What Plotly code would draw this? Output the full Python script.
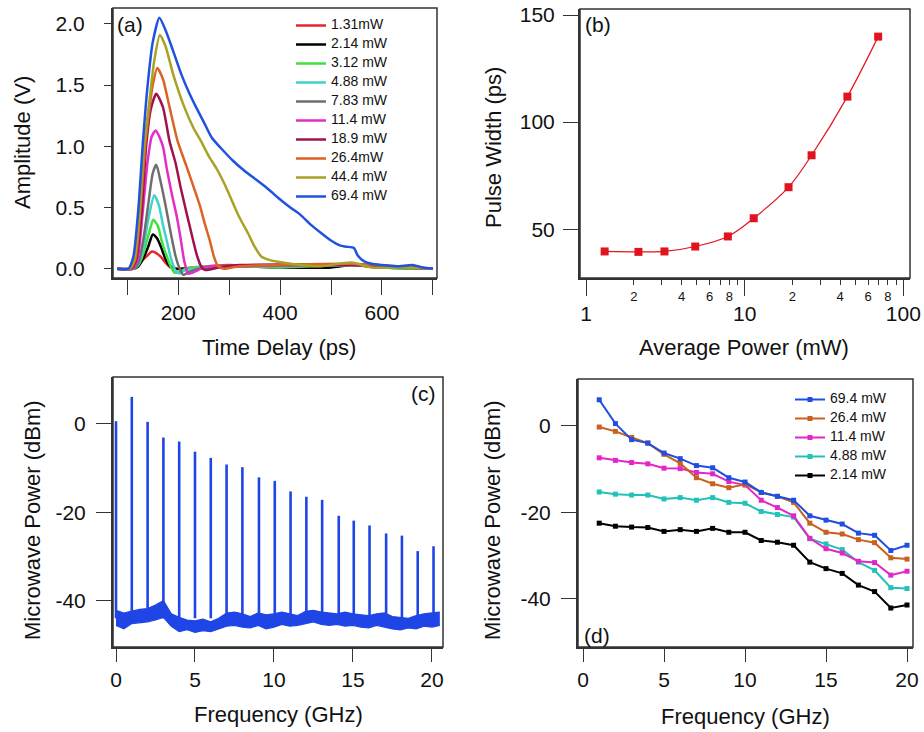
import plotly.graph_objects as go

FONT = "Liberation Sans, Arial, Helvetica, sans-serif"

# ---------------- Panel (a): pulse traces ----------------
a_labels = ["1.31mW", "2.14 mW", "3.12 mW", "4.88 mW", "7.83 mW",
            "11.4 mW", "18.9 mW", "26.4mW", "44.4 mW", "69.4 mW"]
a_colors = ["#e8262c", "#000000", "#3fe03f", "#3fd2c8", "#6e6e6e",
            "#e22ec6", "#a0124c", "#dc6226", "#a8a226", "#2052e0"]

t_131 = [80, 110, 120, 130, 140, 148, 156, 165, 175, 185, 200, 230, 260, 300, 350, 400, 450, 500, 540, 570, 620, 660, 700]
a_131 = [0.0, 0.0, 0.02, 0.07, 0.11, 0.14, 0.13, 0.10, 0.05, 0.01, 0.0, 0.01, 0.02, 0.03, 0.02, 0.02, 0.02, 0.02, 0.04, 0.02, 0.01, 0.01, 0.0]
t_214 = [80, 112, 122, 132, 142, 150, 158, 166, 174, 182, 195, 215, 260, 320, 400, 500, 540, 600, 700]
a_214 = [0.0, 0.0, 0.02, 0.09, 0.19, 0.28, 0.25, 0.18, 0.09, 0.03, 0.0, 0.0, 0.01, 0.02, 0.01, 0.01, 0.03, 0.01, 0.0]
t_312 = [80, 112, 122, 132, 142, 151, 160, 168, 176, 184, 192, 200, 215, 260, 320, 400, 540, 600, 700]
a_312 = [0.0, 0.0, 0.03, 0.13, 0.28, 0.40, 0.35, 0.22, 0.12, 0.03, -0.03, -0.03, 0.0, 0.02, 0.02, 0.01, 0.03, 0.01, 0.0]
t_488 = [80, 112, 122, 132, 142, 153, 162, 170, 178, 186, 194, 202, 210, 230, 300, 540, 700]
a_488 = [0.0, 0.0, 0.04, 0.18, 0.42, 0.60, 0.52, 0.36, 0.22, 0.08, -0.01, -0.04, -0.02, 0.0, 0.02, 0.03, 0.0]
t_783 = [80, 112, 122, 132, 142, 150, 157, 165, 175, 185, 195, 203, 210, 220, 240, 300, 540, 700]
a_783 = [0.0, 0.0, 0.05, 0.25, 0.55, 0.78, 0.85, 0.72, 0.52, 0.30, 0.10, 0.0, -0.05, -0.03, 0.0, 0.02, 0.03, 0.0]
t_114 = [80, 110, 120, 130, 140, 148, 156, 170, 177, 188, 197, 205, 212, 220, 230, 245, 260, 300, 540, 700]
a_114 = [0.0, 0.0, 0.07, 0.45, 0.88, 1.08, 1.13, 1.00, 0.83, 0.60, 0.43, 0.24, 0.06, -0.04, -0.03, 0.0, 0.02, 0.02, 0.03, 0.0]
t_189 = [80, 108, 118, 128, 137, 146, 157, 170, 183, 195, 205, 215, 223, 236, 245, 252, 280, 320, 540, 700]
a_189 = [0.0, 0.0, 0.08, 0.45, 1.0, 1.30, 1.43, 1.32, 1.04, 0.86, 0.66, 0.48, 0.34, 0.12, 0.02, -0.01, 0.01, 0.03, 0.03, 0.0]
t_264 = [80, 106, 116, 126, 135, 144, 150, 159, 170, 183, 199, 216, 230, 243, 252, 262, 270, 278, 290, 320, 540, 700]
a_264 = [0.0, 0.0, 0.08, 0.5, 1.0, 1.32, 1.5, 1.64, 1.55, 1.32, 1.04, 0.84, 0.67, 0.51, 0.37, 0.23, 0.10, 0.02, 0.0, 0.02, 0.04, 0.0]
t_444 = [80, 104, 114, 124, 133, 143, 153, 164, 175, 190, 212, 230, 245, 260, 275, 290, 305, 320, 337, 350, 363, 380, 405, 440, 480, 540, 580, 640, 700]
a_444 = [0.0, 0.0, 0.08, 0.45, 1.0, 1.35, 1.70, 1.91, 1.82, 1.59, 1.32, 1.15, 1.04, 0.92, 0.82, 0.70, 0.56, 0.42, 0.29, 0.18, 0.10, 0.07, 0.05, 0.03, 0.02, 0.05, 0.01, 0.01, 0.0]
t_694 = [80, 102, 112, 122, 131, 140, 150, 163, 175, 190, 206, 220, 235, 250, 266, 285, 308, 330, 352, 374, 396, 420, 440, 460, 481, 500, 517, 530, 545, 552, 565, 580, 600, 630, 660, 680, 700]
a_694 = [0.0, 0.0, 0.1, 0.5, 1.05, 1.5, 1.85, 2.05, 1.95, 1.78, 1.59, 1.45, 1.32, 1.20, 1.07, 0.98, 0.88, 0.80, 0.73, 0.66, 0.58, 0.50, 0.44, 0.36, 0.29, 0.23, 0.19, 0.18, 0.17, 0.11, 0.06, 0.04, 0.03, 0.02, 0.03, 0.01, 0.0]

a_times = [t_131, t_214, t_312, t_488, t_783, t_114, t_189, t_264, t_444, t_694]
a_amps = [a_131, a_214, a_312, a_488, a_783, a_114, a_189, a_264, a_444, a_694]

a_xtick_vals = [100, 200, 300, 400, 500, 600, 700]
a_xtick_text = ["", "200", "", "400", "", "600", ""]
a_ytick_vals = [0.0, 0.5, 1.0, 1.5, 2.0]
a_ytick_text = ["0.0", "0.5", "1.0", "1.5", "2.0"]

# ---------------- Panel (b): pulse width vs power ----------------
b_power = [1.31, 2.14, 3.12, 4.88, 7.83, 11.4, 18.9, 26.4, 44.4, 69.4]
b_width = [39.6, 39.4, 39.6, 41.9, 46.6, 55.1, 69.6, 84.5, 111.9, 139.9]
b_major_vals = [1, 10, 100]
b_major_text = ["1", "10", "100"]
b_minor_vals = [2, 3, 4, 5, 6, 7, 8, 9, 20, 30, 40, 50, 60, 70, 80, 90]
b_minor_text = ["2", "", "4", "", "6", "", "8", "", "2", "", "4", "", "6", "", "8", ""]
b_ytick_vals = [50, 100, 150]
b_ytick_text = ["50", "100", "150"]

# ---------------- Panel (c): RF spectrum ----------------
c_peak_freq = [0.0, 1.0, 2.0, 3.0, 4.0, 5.0, 6.0, 7.0, 8.0, 9.05, 10.05,
               11.05, 12.05, 13.05, 14.1, 15.05, 16.05, 17.1, 18.1, 19.1, 20.1]
c_peak_dbm = [0.6, 6.1, 0.45, -3.1, -4.0, -6.3, -7.7, -9.2, -9.8, -12.1, -12.9,
              -15.3, -16.5, -17.2, -20.8, -21.9, -23.0, -24.8, -25.3, -28.8, -27.7]
c_noise_freq = [0, 0.5, 1, 1.5, 2, 2.5, 3, 3.5, 4, 4.5, 5, 5.5, 6, 6.5, 7, 7.5, 8, 8.5, 9, 9.5, 10,
                10.5, 11, 11.5, 12, 12.5, 13, 13.5, 14, 14.5, 15, 15.5, 16, 16.5, 17, 17.5, 18, 18.5, 19, 19.5, 20, 20.5]
c_noise_upper = [-42.2, -42.8, -42.4, -42.0, -41.8, -41.0, -40.0, -43.0, -43.8, -44.4, -44.6, -44.2, -44.8, -44.0,
                 -42.8, -42.6, -43.0, -43.6, -42.8, -43.2, -43.0, -42.6, -43.0, -43.4, -42.4, -42.2, -42.6, -42.8,
                 -43.0, -42.6, -43.0, -43.2, -43.4, -43.0, -42.8, -43.6, -43.8, -44.0, -43.4, -43.0, -42.8, -42.6]
c_noise_lower = [-45.6, -46.4, -45.2, -45.0, -44.8, -44.4, -43.8, -45.8, -47.0, -46.6, -47.2, -46.8, -47.0, -46.4,
                 -45.8, -45.6, -46.0, -46.2, -45.6, -46.4, -46.0, -45.4, -45.8, -45.6, -45.2, -44.8, -45.4, -45.6,
                 -45.4, -45.8, -45.6, -46.0, -46.2, -45.6, -46.0, -46.4, -46.6, -46.2, -46.4, -45.8, -46.0, -45.6]
c_spike_base = -44.0
cd_xtick_vals = [0, 5, 10, 15, 20]
cd_ytick_vals = [-40, -20, 0]
cd_ytick_text = ["-40", "-20", "0"]

# ---------------- Panel (d): harmonic power ----------------
d_freq = list(range(1, 21))
d_labels = ["69.4 mW", "26.4 mW", "11.4 mW", "4.88 mW", "2.14 mW"]
d_colors = ["#1f4ee0", "#c8601e", "#e226c8", "#22c2b8", "#000000"]
d_694 = [6.0, 0.5, -3.2, -4.0, -6.3, -7.6, -9.2, -9.7, -12.0, -13.0, -15.4, -16.3, -17.2, -20.8, -21.8, -22.7, -24.8, -25.3, -28.8, -27.6]
d_264 = [-0.3, -1.3, -2.7, -4.0, -6.6, -8.7, -12.0, -13.4, -14.3, -13.5, -15.4, -16.3, -17.7, -22.5, -24.6, -25.0, -26.3, -27.0, -30.5, -30.8]
d_114 = [-7.4, -8.0, -8.5, -8.8, -9.8, -9.9, -10.8, -11.1, -12.9, -13.7, -17.2, -18.9, -20.8, -26.0, -28.4, -29.4, -31.3, -31.6, -34.5, -33.6]
d_488 = [-15.3, -15.8, -16.0, -16.0, -16.9, -16.6, -17.2, -16.6, -17.7, -17.9, -19.8, -20.5, -21.1, -26.1, -27.3, -28.6, -31.5, -33.4, -37.4, -37.6]
d_214 = [-22.5, -23.2, -23.4, -23.5, -24.4, -24.0, -24.4, -23.7, -24.6, -24.6, -26.5, -26.9, -27.6, -31.5, -33.0, -34.1, -36.8, -38.3, -42.1, -41.4]
d_series = [d_694, d_264, d_114, d_488, d_214]

fig = go.Figure()

# (a)
for lab, col, tt, aa in zip(a_labels, a_colors, a_times, a_amps):
    fig.add_trace(go.Scatter(x=tt, y=aa, mode="lines",
                             name='<span style="font-size:14px">' + lab + '</span>',
                             line=dict(color=col, width=2.5, shape="spline", smoothing=0.6),
                             xaxis="x", yaxis="y", legend="legend"))

# (b)
fig.add_trace(go.Scatter(x=b_power, y=b_width, mode="lines+markers", showlegend=False,
                         line=dict(color="#e0141e", width=1.2, shape="spline"),
                         marker=dict(symbol="square", size=8, color="#e0141e"),
                         xaxis="x2", yaxis="y2"))

# (c)
C_BLUE = "#1f45e6"
fig.add_trace(go.Scatter(x=c_noise_freq, y=c_noise_lower, mode="lines", showlegend=False,
                         line=dict(color=C_BLUE, width=1.2), xaxis="x3", yaxis="y3"))
fig.add_trace(go.Scatter(x=c_noise_freq, y=c_noise_upper, mode="lines", showlegend=False,
                         line=dict(color=C_BLUE, width=1.2), fill="tonexty", fillcolor=C_BLUE,
                         xaxis="x3", yaxis="y3"))
spike_x, spike_y = [], []
for f, p in zip(c_peak_freq, c_peak_dbm):
    spike_x += [f, f, None]
    spike_y += [c_spike_base, p, None]
fig.add_trace(go.Scatter(x=spike_x, y=spike_y, mode="lines", showlegend=False,
                         line=dict(color=C_BLUE, width=2.6), xaxis="x3", yaxis="y3"))

# (d)
for i in reversed(range(len(d_series))):
    fig.add_trace(go.Scatter(x=d_freq, y=d_series[i], mode="lines+markers",
                             name='<span style="font-size:14px">' + d_labels[i] + '</span>',
                             line=dict(color=d_colors[i], width=2),
                             marker=dict(symbol="square", size=5, color=d_colors[i]),
                             legendrank=i + 1, xaxis="x4", yaxis="y4", legend="legend2"))

# invisible companions that activate the label-carrying overlay axes
for xa, ya, xs, ys in [("x5", "y2", b_power, b_width), ("x", "y6", t_694, a_694),
                       ("x2", "y7", b_power, b_width), ("x3", "y8", c_peak_freq, c_peak_dbm),
                       ("x4", "y9", d_freq, d_694)]:
    fig.add_trace(go.Scatter(x=xs, y=ys, mode="markers", showlegend=False, hoverinfo="skip",
                             marker=dict(opacity=0), xaxis=xa, yaxis=ya))

W, H = 924, 732
def dx(a, b):
    return [a / W, b / W]
def dy(top, bottom):
    return [1 - bottom / H, 1 - top / H]

FRAME = "#333333"
TICKFONT = dict(size=21, color="#111111", family=FONT)
axis_common = dict(showgrid=False, zeroline=False, showline=True, mirror=False, automargin=False,
                   linecolor=FRAME, linewidth=1.5, ticks="outside", tickcolor="#333333",
                   tickwidth=1.3, tickfont=TICKFONT)
label_axis = dict(showgrid=False, zeroline=False, showline=False, automargin=False, side="left",
                  ticks="outside", tickcolor="rgba(0,0,0,0)", tickmode="array", tickfont=TICKFONT)

PA = dict(x=(113, 437), y=(8, 278))
PB = dict(x=(580, 910), y=(9, 278))
PC = dict(x=(113, 443), y=(377, 647))
PD = dict(x=(578, 913), y=(379, 647))

fig.update_layout(
    width=W, height=H, margin=dict(l=0, r=0, t=0, b=0, autoexpand=False),
    paper_bgcolor="white", plot_bgcolor="white",
    font=dict(family=FONT, color="#111111"),
    xaxis=dict(axis_common, domain=dx(*PA["x"]), range=[72, 708], anchor="y",
               tickmode="array", tickvals=a_xtick_vals, ticktext=a_xtick_text, ticklen=15),
    yaxis=dict(axis_common, domain=dy(*PA["y"]), range=[-0.076, 2.13], anchor="x",
               tickmode="array", tickvals=a_ytick_vals, showticklabels=False, ticklen=7),
    yaxis6=dict(label_axis, overlaying="y", anchor="x", range=[-0.076, 2.13],
                tickvals=a_ytick_vals, ticktext=a_ytick_text, ticklen=23),
    xaxis2=dict(axis_common, type="log", domain=dx(*PB["x"]), range=[-0.038, 2.042], anchor="y2",
                tickmode="array", tickvals=b_major_vals, ticktext=b_major_text, ticklen=16),
    xaxis5=dict(type="log", overlaying="x2", anchor="y2", side="bottom", range=[-0.038, 2.042],
                automargin=False, showgrid=False, zeroline=False, showline=False,
                ticks="outside", ticklen=6, color="#111111",
                tickcolor="#333333", tickwidth=1.3, tickmode="array",
                tickvals=b_minor_vals, ticktext=b_minor_text,
                tickfont=dict(size=13, color="#111111", family=FONT)),
    yaxis2=dict(axis_common, domain=dy(*PB["y"]), range=[27.2, 152.8], anchor="x2",
                tickmode="array", tickvals=b_ytick_vals, showticklabels=False, ticklen=15),
    yaxis7=dict(label_axis, overlaying="y2", anchor="x2", range=[27.2, 152.8],
                tickvals=b_ytick_vals, ticktext=b_ytick_text, ticklen=20),
    xaxis3=dict(axis_common, domain=dx(*PC["x"]), range=[-0.19, 20.7], anchor="y3",
                tickmode="array", tickvals=cd_xtick_vals, ticklen=13),
    yaxis3=dict(axis_common, domain=dy(*PC["y"]), range=[-50.5, 10.6], anchor="x3",
                tickmode="array", tickvals=cd_ytick_vals, showticklabels=False, ticklen=15),
    yaxis8=dict(label_axis, overlaying="y3", anchor="x3", range=[-50.5, 10.6],
                tickvals=cd_ytick_vals, ticktext=cd_ytick_text, ticklen=22),
    xaxis4=dict(axis_common, domain=dx(*PD["x"]), range=[-0.31, 20.37], anchor="y4",
                tickmode="array", tickvals=cd_xtick_vals, ticklen=13),
    yaxis4=dict(axis_common, domain=dy(*PD["y"]), range=[-51.1, 10.8], anchor="x4",
                tickmode="array", tickvals=cd_ytick_vals, showticklabels=False, ticklen=15),
    yaxis9=dict(label_axis, overlaying="y4", anchor="x4", range=[-51.1, 10.8],
                tickvals=cd_ytick_vals, ticktext=cd_ytick_text, ticklen=22),
    legend=dict(x=291 / W, y=1 - 11 / H, xanchor="left", yanchor="top", traceorder="normal",
                bgcolor="rgba(0,0,0,0)", font=dict(size=10, family=FONT), tracegroupgap=0,
                itemwidth=30),
    legend2=dict(x=790 / W, y=1 - 385 / H, xanchor="left", yanchor="top", traceorder="normal",
                 bgcolor="rgba(0,0,0,0)", font=dict(size=10, family=FONT), tracegroupgap=0,
                 itemwidth=30),
)

# frames around each panel (paper coordinates of the panel boxes)
for P in (PA, PB, PC, PD):
    fig.add_shape(type="rect", xref="paper", yref="paper",
                  x0=P["x"][0] / W, x1=P["x"][1] / W, y0=1 - P["y"][1] / H, y1=1 - P["y"][0] / H,
                  line=dict(color=FRAME, width=1.5), fillcolor="rgba(0,0,0,0)", layer="above")

# panel tags
for txt, x, y, xa in [("(a)", 115, 25, "left"), ("(b)", 583, 25, "left"),
                      ("(c)", 438, 393, "right"), ("(d)", 582, 635, "left")]:
    fig.add_annotation(text=txt, x=x / W, y=1 - y / H, xref="paper", yref="paper",
                       xanchor=xa, yanchor="middle", showarrow=False,
                       font=dict(size=21, family=FONT, color="#111111"))

# axis titles
titles = [("Time Delay (ps)", 279, 347, 0), ("Amplitude (V)", 23, 143, -90),
          ("Average Power (mW)", 744, 347, 0), ("Pulse Width (ps)", 493, 148, -90),
          ("Frequency (GHz)", 278, 714, 0), ("Microwave Power (dBm)", 32, 520, -90),
          ("Frequency (GHz)", 745, 716, 0), ("Microwave Power (dBm)", 492, 520, -90)]
for txt, x, y, ang in titles:
    fig.add_annotation(text=txt, x=x / W, y=1 - y / H, xref="paper", yref="paper",
                       xanchor="center", yanchor="middle", textangle=ang, showarrow=False,
                       font=dict(size=22, family=FONT, color="#111111"))

fig.write_html("out.html", post_script="document.body.style.margin='0';",
               config={"displayModeBar": False})
